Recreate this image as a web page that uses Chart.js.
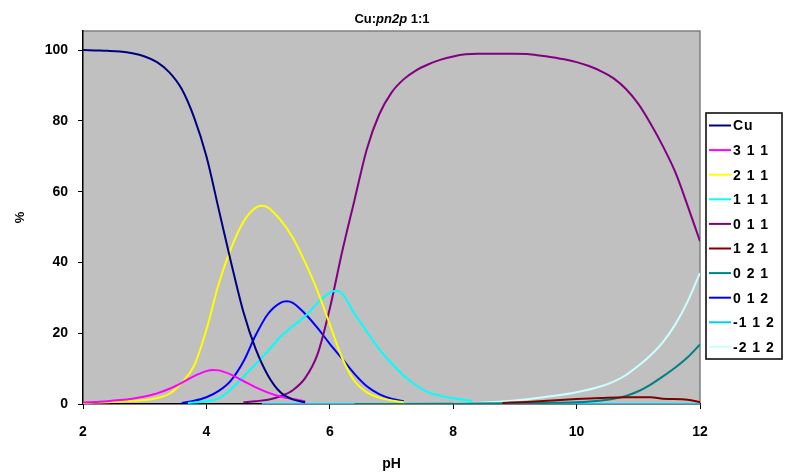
<!DOCTYPE html>
<html>
<head>
<meta charset="utf-8">
<script src="https://cdn.jsdelivr.net/npm/chart.js@4/dist/chart.umd.min.js"></script>
<style>
  html, body { margin: 0; padding: 0; background: #fff; overflow: hidden; }
  canvas { display: block; }
</style>
</head>
<body>
<canvas id="speciation" width="786" height="475"></canvas>
<script>
// species distribution, % of total Cu vs pH
var cuPH  = [2.0, 2.2, 2.4, 2.6, 2.8, 3.0, 3.2, 3.4, 3.6, 3.8, 4.0, 4.2, 4.4, 4.6, 4.8, 5.0, 5.2, 5.4, 5.6];
var cuPct = [100, 99.9, 99.8, 99.6, 99.1, 98.2, 96.6, 93.7, 89, 81, 70, 55, 40, 26, 15.5, 8, 3.3, 1.3, 0.5];

var s311PH  = [2.0, 2.2, 2.4, 2.6, 2.8, 3.0, 3.2, 3.4, 3.6, 3.8, 4.0, 4.1, 4.2, 4.4, 4.6, 4.8, 5.0, 5.2, 5.4, 5.6];
var s311Pct = [0.4, 0.6, 0.8, 1.1, 1.5, 2.1, 3.0, 4.3, 6.0, 7.9, 9.3, 9.6, 9.5, 8.3, 6.5, 4.7, 3.2, 2.1, 1.4, 0.8];

var s211PH  = [2.0, 2.2, 2.4, 2.6, 2.8, 3.0, 3.2, 3.4, 3.6, 3.8, 4.0, 4.2, 4.4, 4.6, 4.8, 4.9, 5.0, 5.2, 5.4, 5.6, 5.8, 6.0, 6.2, 6.4, 6.6, 6.8, 7.0, 7.2];
var s211Pct = [0.3, 0.4, 0.5, 0.7, 0.9, 1.1, 1.7, 2.9, 6.0, 10.8, 21, 34, 44, 51.5, 55.5, 56, 55.5, 52, 47, 40, 32, 22.5, 13, 6.5, 3.3, 1.8, 1.0, 0.5];

var s111PH  = [3.7, 4.0, 4.2, 4.4, 4.6, 4.8, 5.0, 5.2, 5.4, 5.6, 5.8, 6.0, 6.1, 6.2, 6.4, 6.6, 6.8, 7.0, 7.2, 7.4, 7.6, 7.8, 8.0, 8.2, 8.3];
var s111Pct = [0.3, 0.8, 1.6, 4.2, 7.7, 11.3, 15, 19, 22, 24.8, 28.5, 31.5, 32, 31.2, 25.5, 20.5, 15.5, 11.5, 8, 5.3, 3.3, 2.3, 1.6, 1.1, 0.9];

var s011PH  = [4.6, 4.8, 5.0, 5.2, 5.4, 5.6, 5.8, 6.0, 6.2, 6.4, 6.6, 6.8, 7.0, 7.2, 7.4, 7.6, 7.8, 8.0, 8.2, 8.4, 8.6, 9.0, 9.2, 9.4, 9.6, 9.8, 10.0, 10.2, 10.4, 10.6, 10.8, 11.0, 11.2, 11.4, 11.6, 11.8, 12.0];
var s011Pct = [0.5, 0.8, 1.2, 2.2, 3.9, 7.3, 14, 27, 43, 57.6, 72, 81.8, 88, 91.8, 94.3, 96, 97.3, 98.2, 98.8, 99, 99, 99, 98.9, 98.5, 98, 97.4, 96.6, 95.5, 94, 92, 89, 84.8, 79.2, 72.8, 65.5, 56, 46];

var s121PH  = [8.8, 9.2, 9.6, 10.0, 10.4, 10.8, 11.2, 11.4, 11.8, 12];
var s121Pct = [0.3, 0.6, 1.0, 1.4, 1.7, 1.9, 1.9, 1.5, 1.2, 0.5];

var s021PH  = [6.4, 8.0, 9.5, 10.0, 10.4, 10.6, 10.8, 11.0, 11.2, 11.4, 11.6, 11.8, 12];
var s021Pct = [0, 0.1, 0.3, 0.5, 1.0, 1.5, 2.3, 3.6, 5.5, 7.8, 10.3, 13.2, 16.8];

var s012PH  = [3.6, 3.8, 4.0, 4.2, 4.4, 4.6, 4.8, 5.0, 5.2, 5.3, 5.4, 5.6, 5.8, 6.0, 6.2, 6.4, 6.6, 6.8, 7.0, 7.2];
var s012Pct = [0.3, 0.9, 1.9, 3.7, 6.7, 12, 19.5, 25.5, 28.6, 29, 28.6, 25.5, 21.5, 17, 12.8, 8.5, 5, 2.8, 1.5, 0.8];

var sm112PH  = [4.9, 6, 8, 10, 12];
var sm112Pct = [0, 0, 0, 0, 0];

var sm212PH  = [8.0, 8.5, 9.0, 9.5, 10.0, 10.4, 10.6, 10.8, 11.0, 11.2, 11.4, 11.6, 11.8, 12];
var sm212Pct = [0.2, 0.4, 1.0, 2.0, 3.3, 5.0, 6.3, 8.2, 10.8, 13.8, 17.5, 22.5, 29, 37];

var seriesNames  = ['Cu', '3 1 1', '2 1 1', '1 1 1', '0 1 1', '1 2 1', '0 2 1', '0 1 2', '-1 1 2', '-2 1 2'];
var seriesColors = ['#000080', '#ff00ff', '#ffff00', '#00ffff', '#800080', '#800000', '#008080', '#0000ff', '#00ccff', '#ccffff'];
var seriesPH  = [cuPH, s311PH, s211PH, s111PH, s011PH, s121PH, s021PH, s012PH, sm112PH, sm212PH];
var seriesPct = [cuPct, s311Pct, s211Pct, s111Pct, s011Pct, s121Pct, s021Pct, s012Pct, sm112Pct, sm212Pct];

var xTicks = [2, 4, 6, 8, 10, 12];
var yTicks = [0, 20, 40, 60, 80, 100];

var FONT = '"Liberation Sans", Arial, sans-serif';

var datasets = seriesNames.map(function(name, i) {
    var pts = seriesPH[i].map(function(ph, j) { return {x: ph, y: seriesPct[i][j]}; });
    return {
        label: name,
        data: pts,
        borderColor: seriesColors[i],
        backgroundColor: seriesColors[i],
        borderWidth: 2,
        pointRadius: 0,
        cubicInterpolationMode: 'monotone',
        fill: false
    };
});

// grey plot area with a darker frame on top/right
var plotBg = {
    id: 'plotBg',
    beforeDraw: function(chart) {
        var a = chart.chartArea, ctx = chart.ctx;
        ctx.save();
        ctx.fillStyle = '#c0c0c0';
        ctx.fillRect(a.left, a.top, a.right - a.left, a.bottom - a.top);
        ctx.strokeStyle = '#808080';
        ctx.lineWidth = 1.5;
        ctx.beginPath();
        ctx.moveTo(a.left, a.top);
        ctx.lineTo(a.right, a.top);
        ctx.lineTo(a.right, a.bottom);
        ctx.stroke();
        ctx.restore();
    }
};

// title with italic ligand name, and boxed legend at the right
var decor = {
    id: 'decor',
    afterDraw: function(chart) {
        var ctx = chart.ctx;
        ctx.save();
        var parts = [['Cu:', 'bold'], ['pn2p', 'italic bold'], [' 1:1', 'bold']];
        var total = 0;
        parts.forEach(function(p) {
            ctx.font = p[1] + ' 13px ' + FONT;
            total += ctx.measureText(p[0]).width;
        });
        var x = 392 - total / 2;
        ctx.fillStyle = '#000';
        ctx.textBaseline = 'alphabetic';
        parts.forEach(function(p) {
            ctx.font = p[1] + ' 13px ' + FONT;
            ctx.fillText(p[0], x, 23);
            x += ctx.measureText(p[0]).width;
        });

        var bx = 706, by = 113, bw = 76, bh = 246;
        ctx.fillStyle = '#fff';
        ctx.fillRect(bx, by, bw, bh);
        ctx.strokeStyle = '#000';
        ctx.lineWidth = 1.5;
        ctx.strokeRect(bx, by, bw, bh);
        ctx.font = 'bold 14px ' + FONT;
        ctx.letterSpacing = '1px';
        ctx.textAlign = 'left';
        ctx.textBaseline = 'middle';
        chart.data.datasets.forEach(function(ds, i) {
            var y = 125.5 + i * 24.6;
            ctx.strokeStyle = ds.borderColor;
            ctx.lineWidth = 2;
            ctx.beginPath();
            ctx.moveTo(709, y);
            ctx.lineTo(731, y);
            ctx.stroke();
            ctx.fillStyle = '#000';
            ctx.fillText(ds.label, 733, y + 1);
        });
        ctx.restore();
    }
};

new Chart(document.getElementById('speciation'), {
    type: 'line',
    data: { datasets: datasets },
    plugins: [plotBg, decor],
    options: {
        responsive: false,
        animation: false,
        events: [],
        layout: { padding: { top: 31, right: 86, left: 0, bottom: 0 } },
        plugins: { legend: { display: false }, title: { display: false }, tooltip: { enabled: false } },
        scales: {
            x: {
                type: 'linear',
                min: 2, max: 12,
                afterFit: function(s) { s.height = 71; },
                afterBuildTicks: function(s) { s.ticks = xTicks.map(function(v) { return {value: v}; }); },
                grid: { display: true, drawOnChartArea: false, drawTicks: true, tickLength: 5, color: '#000' },
                border: { display: true, color: '#000', width: 1.5 },
                ticks: { color: '#000', padding: 15, font: { family: FONT, size: 14, weight: 'bold' } },
                title: { display: true, text: 'pH', color: '#000', padding: { top: 0, bottom: 2 }, font: { family: FONT, size: 14, weight: 'bold' } }
            },
            y: {
                min: 0, max: 105.4,
                afterFit: function(s) { s.width = 83; },
                afterBuildTicks: function(s) { s.ticks = yTicks.map(function(v) { return {value: v}; }); },
                grid: { display: true, drawOnChartArea: false, drawTicks: true, tickLength: 5, color: '#000' },
                border: { display: true, color: '#000', width: 1.5 },
                ticks: { color: '#000', padding: 10, font: { family: FONT, size: 14, weight: 'bold' } },
                title: { display: true, text: '%', color: '#000', padding: { top: 13, bottom: 0 }, font: { family: FONT, size: 13, weight: 'bold' } }
            }
        }
    }
});
</script>
</body>
</html>
